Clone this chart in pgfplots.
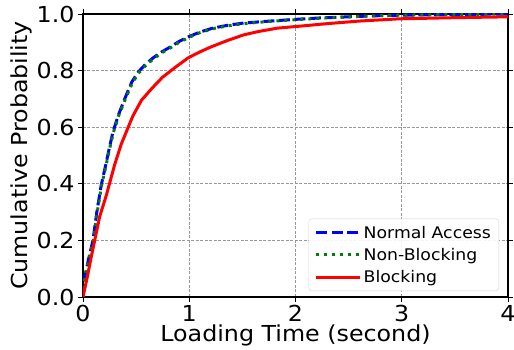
\documentclass[border=0pt]{standalone}
\usepackage{fontspec}
\setmainfont{DejaVu Sans}[FakeStretch=1.08]
\usepackage{pgfplots}
\pgfplotsset{compat=1.18}
\definecolor{mplblue}{RGB}{0,0,255}
\definecolor{mplgreen}{RGB}{0,128,0}
\definecolor{mplred}{RGB}{255,0,0}
\begin{document}
\begin{tikzpicture}
\begin{axis}[
  scale only axis,
  width=425pt, height=283pt,
  xmin=0, xmax=4, ymin=0, ymax=1,
  xtick={0,1,2,3,4}, ytick={0,0.2,0.4,0.6,0.8,1.0},
  yticklabel style={/pgf/number format/.cd, fixed, fixed zerofill, precision=1},
  /pgf/number format/assume math mode=true,
  tick label style={font=\fontsize{22}{24}\selectfont},
  label style={font=\fontsize{22}{24}\selectfont},
  xlabel={Loading Time (second)},
  ylabel={Cumulative Probability},
  xlabel style={yshift=4pt},
  ylabel style={yshift=-2pt},
  tick align=outside,
  major tick length=5pt,
  every tick/.style={black, line width=0.9pt},
  axis line style={black, line width=1.1pt},
  grid=major,
  major grid style={gray!80, dash pattern=on 3pt off 1.5pt, line width=0.8pt},
  legend style={at={(axis description cs:0.979,0.021)}, anchor=south east,
    draw=gray!35, rounded corners=3pt, fill=white, fill opacity=0.9, text opacity=1,
    font=\fontsize{16}{18}\selectfont, row sep=4.5pt, inner xsep=6pt, inner ysep=5pt},
  legend cell align=left,
  legend image code/.code={\draw[#1] (0pt,0pt) -- (36pt,0pt); \path (0pt,0pt) -- (44pt,0pt);},
]
\addplot[mplblue, line width=3pt, dash pattern=on 11pt off 4.5pt] coordinates {
(0,0) (0.016,0.07) (0.05,0.13) (0.094,0.2) (0.13,0.3) (0.172,0.396) (0.21,0.46)
(0.25,0.53) (0.28,0.58) (0.33,0.64) (0.40,0.707) (0.46,0.76) (0.52,0.795)
(0.59,0.823) (0.66,0.845) (0.74,0.866) (0.82,0.883) (0.9,0.902) (0.99,0.919)
(1.1,0.936) (1.22,0.95) (1.36,0.96) (1.51,0.968) (1.76,0.975) (2.04,0.982)
(2.23,0.986) (2.5,0.99) (2.7,0.993) (3.0,0.996) (3.5,0.998) (4.0,1.0)};
\addlegendentry{Normal Access}
\addplot[mplgreen, line width=3pt, dash pattern=on 3pt off 5pt] coordinates {
(0,0) (0.018,0.07) (0.053,0.13) (0.097,0.2) (0.134,0.3) (0.176,0.396) (0.214,0.46)
(0.254,0.53) (0.285,0.58) (0.335,0.64) (0.405,0.705) (0.465,0.757) (0.525,0.792)
(0.595,0.82) (0.665,0.842) (0.745,0.864) (0.825,0.881) (0.905,0.9) (0.995,0.917)
(1.1,0.934) (1.22,0.948) (1.36,0.958) (1.51,0.966) (1.76,0.974) (2.04,0.981)
(2.23,0.985) (2.5,0.99) (2.7,0.993) (3.0,0.996) (3.5,0.998) (4.0,1.0)};
\addlegendentry{Non-Blocking}
\addplot[mplred, line width=3pt] coordinates {
(0,0) (0.04,0.07) (0.078,0.142) (0.157,0.284) (0.22,0.36) (0.30,0.47) (0.36,0.54)
(0.42,0.595) (0.47,0.64) (0.55,0.695) (0.65,0.738) (0.75,0.777) (0.87,0.812)
(0.99,0.845) (1.1,0.866) (1.2,0.883) (1.35,0.905) (1.51,0.926) (1.65,0.938)
(1.83,0.95) (2.07,0.958) (2.3,0.966) (2.6,0.975) (2.98,0.983) (3.5,0.987) (4.0,0.99)};
\addlegendentry{Blocking}
\end{axis}
\pgfresetboundingbox
\path ([shift={(-83pt,-53pt)}]current axis.south west) rectangle ([shift={(6pt,14pt)}]current axis.north east);
\end{tikzpicture}
\end{document}
